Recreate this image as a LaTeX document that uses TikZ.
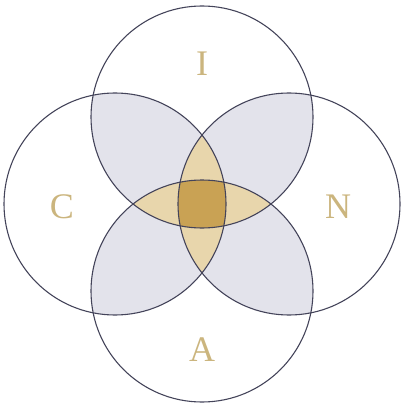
\documentclass[tikz,border=0pt]{standalone}
\usepackage{fontspec}
\setmainfont{Liberation Serif}
\definecolor{lav}{HTML}{E3E3EB}
\definecolor{ltan}{HTML}{E8D6AC}
\definecolor{dtan}{HTML}{C9A254}
\definecolor{edge}{HTML}{44445A}
\definecolor{letter}{HTML}{CBB57E}
\begin{document}
\begin{tikzpicture}[x=1pt,y=-1pt,
  ring/.style={draw=edge,line width=1.1pt},
  lbl/.style={text=letter,font=\fontsize{36}{42}\selectfont,inner sep=0pt}]
\useasboundingbox (0,0) rectangle (400,406);
\def\R{111}
\coordinate (cI) at (202,117);
\coordinate (cA) at (202,291);
\coordinate (cC) at (115,204);
\coordinate (cN) at (289,204);
% pairwise overlaps
\foreach \a/\b in {cI/cC,cI/cN,cA/cC,cA/cN,cI/cA,cC/cN}{
  \begin{scope}
    \clip (\a) circle (\R);
    \fill[lav] (\b) circle (\R);
  \end{scope}}
% triple overlaps
\foreach \a/\b/\c in {cI/cC/cN,cA/cC/cN,cI/cA/cC,cI/cA/cN}{
  \begin{scope}
    \clip (\a) circle (\R);
    \clip (\b) circle (\R);
    \fill[ltan] (\c) circle (\R);
  \end{scope}}
% quadruple
\begin{scope}
  \clip (cI) circle (\R);
  \clip (cA) circle (\R);
  \clip (cC) circle (\R);
  \fill[dtan] (cN) circle (\R);
\end{scope}
\draw[ring] (cI) circle (\R);
\draw[ring] (cA) circle (\R);
\draw[ring] (cC) circle (\R);
\draw[ring] (cN) circle (\R);
\node[lbl] (tI) at (202,64) {I};
\node[lbl] (tC) at (62,207) {C};
\node[lbl] (tN) at (338,207) {N};
\node[lbl] (tA) at (202,350) {A};
\end{tikzpicture}
\end{document}
